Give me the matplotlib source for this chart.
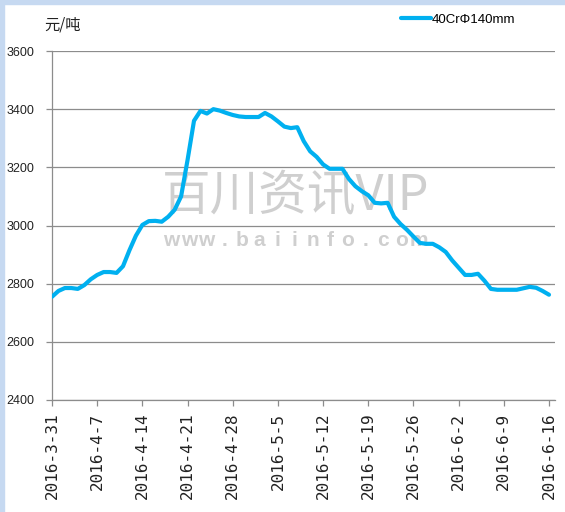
import matplotlib.pyplot as plt
import matplotlib.patches as mpatches
import pandas as pd

# daily price, 2016-3-31 .. 2016-6-16 (yuan / ton)
dates = pd.date_range('2016-03-31', '2016-06-16', freq='D')
prices = [2755, 2775, 2785, 2785, 2782, 2795, 2815, 2830, 2840, 2840,
          2837, 2860, 2915, 2965, 3002, 3015, 3016, 3013, 3030, 3054,
          3100, 3225, 3360, 3394, 3385, 3400, 3395, 3387, 3380, 3375,
          3373, 3373, 3373, 3387, 3375, 3358, 3340, 3335, 3338, 3290,
          3255, 3236, 3210, 3195, 3195, 3195, 3160, 3135, 3118, 3104,
          3078, 3076, 3078, 3030, 3005, 2985, 2962, 2940, 2937, 2937,
          2925, 2909, 2880, 2855, 2830, 2830, 2834, 2810, 2782, 2779,
          2779, 2779, 2779, 2784, 2789, 2786, 2775, 2762]
series_name = '40CrΦ140mm'
unit_label = '元/吨'
yticks = [2400, 2600, 2800, 3000, 3200, 3400, 3600]

days = [(d - dates[0]).days for d in dates]
tick_days = days[::7]
tick_labels = [f'{d.year}-{d.month}-{d.day}' for d in dates[::7]]

W, H = 565, 512
fig = plt.figure(figsize=(W / 100, H / 100), dpi=100)
fig.patch.set_facecolor('white')

# light blue frame on left and top edges
border = '#c6d9f1'
fig.patches.append(mpatches.Rectangle((0, 0), 4 / W, 1, transform=fig.transFigure,
                                      color=border, zorder=-1))
fig.patches.append(mpatches.Rectangle((0, 1 - 4 / H), 1, 4 / H, transform=fig.transFigure,
                                      color=border, zorder=-1))

ax = fig.add_axes([52 / W, 1 - 400 / H, 503 / W, 349 / H])

grid_col = '#8c8c8c'
line, = ax.plot(days, prices, color='#00b0f0', lw=3, solid_capstyle='round',
                solid_joinstyle='round', zorder=3, label=series_name)

ax.set_xlim(0, 77 * 503 / 497)
ax.set_ylim(2400, 3600)
ax.set_yticks(yticks)
ax.set_yticklabels([str(v) for v in yticks], family=['Liberation Sans'], fontsize=9,
                   color='#222222')
ax.set_xticks(tick_days)
ax.set_xticklabels(tick_labels, rotation=90, family=['DejaVu Sans Mono'], fontsize=11.5,
                   color='#222222')
ax.tick_params(axis='y', length=4, width=0.9, color=grid_col, pad=9)
ax.tick_params(axis='x', length=4, width=0.9, color=grid_col, pad=5)

ax.grid(axis='y', color=grid_col, lw=0.9)
ax.set_axisbelow(True)
for s in ['top', 'right']:
    ax.spines[s].set_visible(False)
for s in ['left', 'bottom']:
    ax.spines[s].set_color(grid_col)
    ax.spines[s].set_linewidth(0.9)

# unit label
fig.text(44 / W, 1 - 25 / H, unit_label, family=['Noto Sans CJK SC'], fontsize=11,
         va='center', ha='left', color='#222222')

# legend
fig.legend(handles=[line], loc='center left', bbox_to_anchor=(401 / W, 1 - 20 / H),
           frameon=False, borderpad=0, borderaxespad=0, handlelength=2.3,
           handletextpad=0.05, prop={'family': ['Liberation Sans'], 'size': 9.5})

# watermark
wm = '#cfcfcf'
ax.text(296 / W, 1 - 196 / H, '百川资讯VIP', transform=fig.transFigure,
        family=['Noto Sans CJK SC'], fontsize=35, color=wm, ha='center', va='center',
        zorder=1)
for i, ch in enumerate('www.baiinfo.com'):
    ax.text((171 + i * 17.7) / W, 1 - 240 / H, ch, transform=fig.transFigure,
            family=['Liberation Sans'], fontweight='bold', fontsize=15, color=wm,
            ha='center', va='center', zorder=1)

fig.savefig('out.png', dpi=100)
